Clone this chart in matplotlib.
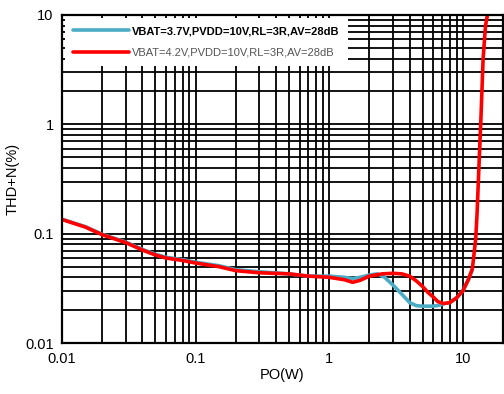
import matplotlib.pyplot as plt
from matplotlib.ticker import FixedLocator, FixedFormatter, LogLocator, NullFormatter

plt.rcParams['font.family'] = ['Liberation Sans', 'DejaVu Sans']

# VBAT=3.7V curve
blue_x = [0.01, 0.015, 0.02, 0.03, 0.04, 0.05, 0.06, 0.08, 0.1, 0.15, 0.2, 0.3, 0.5,
          0.7, 1.0, 1.3, 1.5, 1.7, 2.0, 2.3, 2.6, 3.0, 3.5, 4.0, 4.5, 5.0, 6.0, 6.7,
          7.2, 8.0, 9.0, 10.0, 11.0, 11.8]
blue_y = [0.136, 0.116, 0.099, 0.084, 0.072, 0.065, 0.061, 0.058, 0.055, 0.051, 0.047,
          0.045, 0.043, 0.041, 0.041, 0.040, 0.039, 0.040, 0.042, 0.043, 0.040, 0.034,
          0.028, 0.0235, 0.022, 0.0218, 0.0218, 0.0222, 0.023, 0.0235, 0.026, 0.030,
          0.038, 0.047]

# VBAT=4.2V curve
red_x = [0.01, 0.015, 0.02, 0.03, 0.04, 0.05, 0.06, 0.08, 0.1, 0.15, 0.2, 0.3, 0.5,
         0.7, 1.0, 1.3, 1.5, 1.7, 2.0, 2.5, 3.0, 3.5, 4.0, 4.5, 5.0, 5.5, 6.0, 6.5,
         7.2, 8.0, 9.0, 10.0, 11.0, 11.8, 12.5, 12.8, 13.2, 13.7, 14.2, 14.8, 15.3]
red_y = [0.135, 0.115, 0.098, 0.083, 0.071, 0.064, 0.060, 0.057, 0.054, 0.050, 0.046,
         0.044, 0.043, 0.041, 0.040, 0.038, 0.036, 0.0375, 0.041, 0.043, 0.0435, 0.043,
         0.041, 0.037, 0.033, 0.029, 0.0265, 0.024, 0.023, 0.0235, 0.026, 0.030, 0.038,
         0.048, 0.09, 0.155, 0.4, 1.2, 4.0, 8.0, 10.0]

x_ticks = [0.01, 0.1, 1, 10]
x_labels = ["0.01", "0.1", "1", "10"]
y_ticks = [0.01, 0.1, 1, 10]
y_labels = ["0.01", "0.1", "1", "10"]

fig = plt.figure(figsize=(5.04, 3.94), dpi=100)
ax = fig.add_axes([0.123, 0.129, 0.875, 0.833])

ax.plot(blue_x, blue_y, color="#4bacc6", lw=2.6,
        label="VBAT=3.7V,PVDD=10V,RL=3R,AV=28dB", solid_capstyle="round")
ax.plot(red_x, red_y, color="#ff0000", lw=2.6,
        label="VBAT=4.2V,PVDD=10V,RL=3R,AV=28dB", solid_capstyle="round")

ax.set_xscale("log")
ax.set_yscale("log")
ax.set_xlim(0.01, 20)
ax.set_ylim(0.01, 10)

ax.xaxis.set_major_locator(FixedLocator(x_ticks))
ax.xaxis.set_major_formatter(FixedFormatter(x_labels))
ax.yaxis.set_major_locator(FixedLocator(y_ticks))
ax.yaxis.set_major_formatter(FixedFormatter(y_labels))
ax.xaxis.set_minor_locator(LogLocator(base=10, subs=range(2, 10)))
ax.yaxis.set_minor_locator(LogLocator(base=10, subs=range(2, 10)))
ax.xaxis.set_minor_formatter(NullFormatter())
ax.yaxis.set_minor_formatter(NullFormatter())

ax.grid(True, which="both", color="black", lw=1.3)
ax.set_axisbelow(True)
ax.tick_params(which="both", length=0, labelsize=10.5, pad=6)
for s in ax.spines.values():
    s.set_linewidth(1.6)

ax.set_xlabel("PO(W)", fontsize=10.5, labelpad=2)
ax.set_ylabel("THD+N(%)", fontsize=10.5, labelpad=4)

leg = ax.legend(loc="upper left", fontsize=8, frameon=True, fancybox=False,
                handlelength=5.0, borderaxespad=0.25, borderpad=0.75,
                labelspacing=1.05, handletextpad=0.3)
leg.get_frame().set_edgecolor("none")
leg.get_frame().set_facecolor("white")
leg.get_frame().set_alpha(1)
t1, t2 = leg.get_texts()
t1.set_fontweight("bold")
t2.set_color("#555555")

fig.savefig("out.png", dpi=100)
